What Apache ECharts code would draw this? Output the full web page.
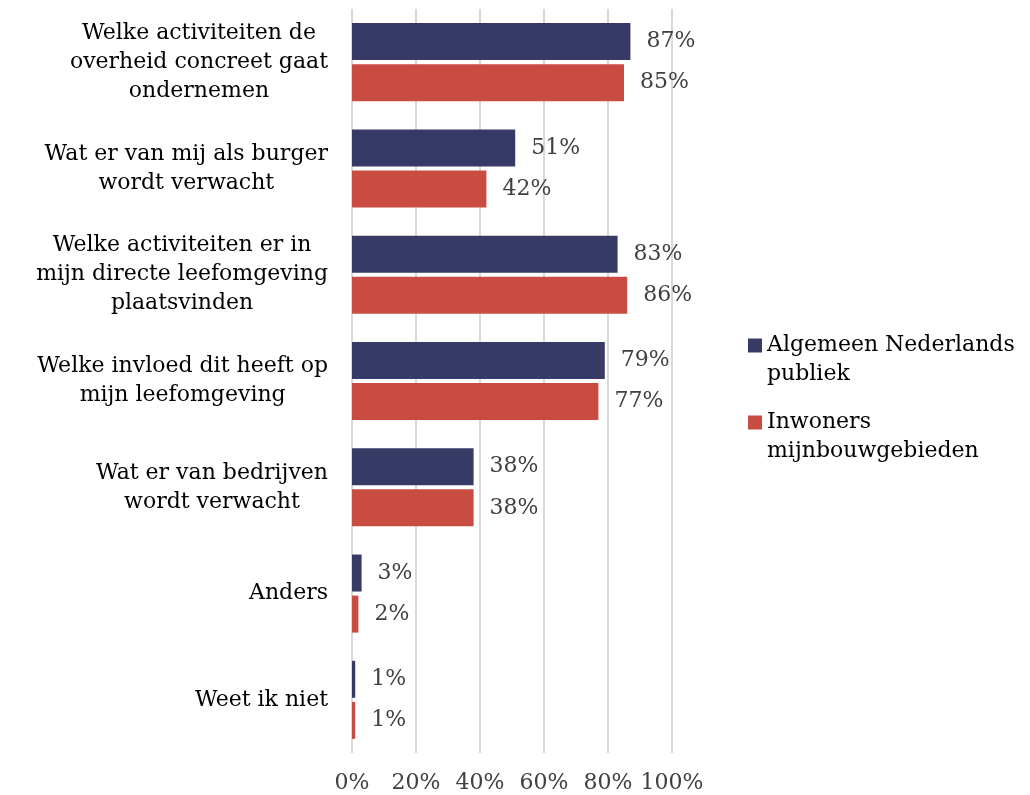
<!DOCTYPE html>
<html>
<head>
<meta charset="utf-8">
<script src="https://cdn.jsdelivr.net/npm/echarts@6/dist/echarts.min.js"></script>
<style>
  html, body { margin: 0; padding: 0; background: #fff; }
  #chart { width: 1030px; height: 795px; }
</style>
</head>
<body>
<div id="chart"></div>
<script>
// categorieen (van boven naar beneden)
const categories = [
  "Welke activiteiten de\noverheid concreet gaat\nondernemen",
  "Wat er van mij als burger\nwordt verwacht",
  "Welke activiteiten er in\nmijn directe leefomgeving\nplaatsvinden",
  "Welke invloed dit heeft op\nmijn leefomgeving",
  "Wat er van bedrijven\nwordt verwacht",
  "Anders",
  "Weet ik niet",
];
const seriesNames = ["Algemeen Nederlands\npubliek", "Inwoners\nmijnbouwgebieden"];
const algemeen = [87, 51, 83, 79, 38, 3, 1];
const inwoners = [85, 42, 86, 77, 38, 2, 1];
const xTicks = [0, 20, 40, 60, 80, 100];

const fontFamily = "DejaVu Serif";
const colors = ["#383a66", "#c94c43"];

const chart = echarts.init(document.getElementById("chart"));

const commonSeries = {
  type: "bar",
  barWidth: 37,
  barGap: "11%",
  label: {
    show: true,
    position: "right",
    distance: 16,
    color: "#404040",
    fontFamily,
    fontSize: 22,
    formatter: (p) => p.value + "%",
  },
  emphasis: { disabled: true },
};

const option = {
  animation: false,
  color: colors,
  textStyle: { fontFamily },
  grid: { left: 352, right: 358, top: 9, bottom: 42 },
  legend: {
    orient: "vertical",
    left: 748,
    top: 302,
    padding: 0,
    icon: "rect",
    itemWidth: 14,
    itemHeight: 14,
    itemGap: -10,
    selectedMode: false,
    // lege eerste regel zodat het blokje bij de eerste tekstregel staat
    formatter: (name) => "\n" + name,
    textStyle: {
      color: "#000",
      fontFamily,
      fontSize: 22,
      lineHeight: 29,
    },
    data: seriesNames,
  },
  xAxis: {
    type: "value",
    min: xTicks[0],
    max: xTicks[xTicks.length - 1],
    interval: 20,
    axisLine: { show: false },
    axisTick: { show: false },
    splitLine: { show: true, lineStyle: { color: "#d9d9d9", width: 2 } },
    axisLabel: {
      color: "#404040",
      fontFamily,
      fontSize: 22,
      margin: 19,
      formatter: (v) => v + "%",
    },
  },
  yAxis: {
    type: "category",
    inverse: true,
    data: categories,
    axisLine: { show: false },
    axisTick: { show: false },
    axisLabel: {
      margin: 24,
      formatter: (v) => v.split("\n").map((l) => "{c|" + l + "}").join("\n"),
      rich: {
        c: {
          align: "center",
          color: "#000",
          fontFamily,
          fontSize: 22,
          lineHeight: 29,
        },
      },
    },
  },
  series: [
    Object.assign({ name: seriesNames[0], data: algemeen }, commonSeries),
    Object.assign({ name: seriesNames[1], data: inwoners }, commonSeries),
  ],
};

chart.setOption(option);
window.addEventListener("resize", () => {
  chart.resize();
});
</script>
</body>
</html>
